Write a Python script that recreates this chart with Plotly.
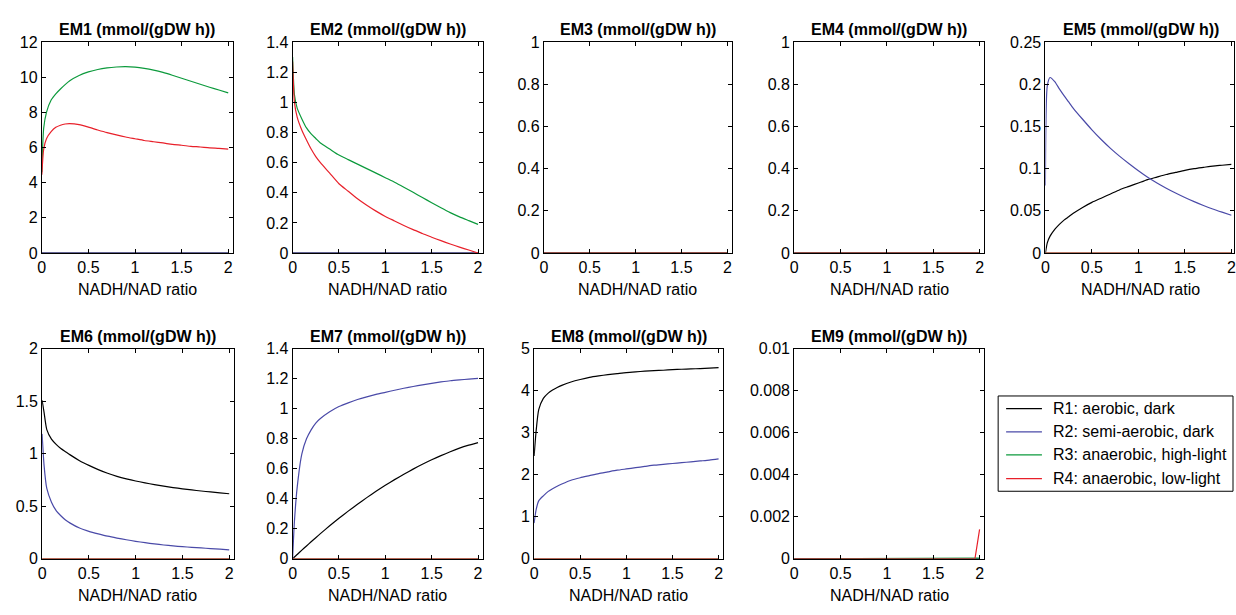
import plotly.graph_objects as go

# ---------------- data ----------------
X = [0, 0.02, 0.05, 0.1, 0.15, 0.2, 0.25, 0.3, 0.4, 0.5, 0.6, 0.7, 0.8, 0.9,
     1.0, 1.1, 1.2, 1.3, 1.4, 1.5, 1.6, 1.7, 1.8, 1.9, 2.0]
ZERO = [0, 0, 0, 0, 0, 0, 0, 0, 0, 0, 0, 0, 0, 0, 0, 0, 0, 0, 0, 0, 0, 0, 0, 0, 0]

EM1_R3 = [4.6, 7.1, 8.0, 8.7, 9.05, 9.33, 9.58, 9.8, 10.1, 10.3, 10.44, 10.53, 10.58,
          10.6, 10.57, 10.5, 10.4, 10.27, 10.11, 9.94, 9.77, 9.6, 9.43, 9.27, 9.11]
EM1_R4 = [4.45, 5.9, 6.5, 6.9, 7.15, 7.27, 7.34, 7.36, 7.3, 7.16, 7.0, 6.85, 6.72,
          6.6, 6.5, 6.4, 6.33, 6.26, 6.18, 6.13, 6.07, 6.03, 5.98, 5.95, 5.91]

EM2_R3 = [1.3, 1.05, 0.96, 0.89, 0.83, 0.79, 0.76, 0.73, 0.69, 0.65, 0.62, 0.59, 0.56,
          0.53, 0.50, 0.47, 0.437, 0.403, 0.368, 0.334, 0.3, 0.268, 0.24, 0.215, 0.19]
EM2_R4 = [1.27, 1.0, 0.9, 0.815, 0.75, 0.69, 0.64, 0.6, 0.53, 0.46, 0.41, 0.36, 0.317,
          0.278, 0.243, 0.213, 0.183, 0.155, 0.13, 0.105, 0.082, 0.06, 0.039, 0.02, 0.0]

EM5_R1 = [0, 0.012, 0.02, 0.028, 0.034, 0.039, 0.043, 0.047, 0.054, 0.06, 0.065, 0.07,
          0.075, 0.079, 0.083, 0.087, 0.09, 0.093, 0.0955, 0.098, 0.1, 0.1015, 0.103,
          0.104, 0.105]
EM5_R2 = [0.08, 0.198, 0.208, 0.203, 0.1945, 0.1865, 0.179, 0.1715, 0.1585, 0.146, 0.1345,
          0.124, 0.1145, 0.1058, 0.0975, 0.0898, 0.083, 0.0768, 0.0711, 0.0658, 0.0609,
          0.0564, 0.0522, 0.0484, 0.0448]

EM6_R1 = [1.51, 1.4, 1.23, 1.14, 1.09, 1.05, 1.02, 0.99, 0.935, 0.89, 0.85, 0.815,
          0.786, 0.762, 0.741, 0.723, 0.707, 0.692, 0.679, 0.667, 0.656, 0.646, 0.637,
          0.628, 0.62]
EM6_R2 = [1.19, 0.9, 0.67, 0.54, 0.46, 0.41, 0.37, 0.34, 0.293, 0.262, 0.238, 0.216,
          0.198, 0.182, 0.167, 0.154, 0.142, 0.132, 0.123, 0.116, 0.11, 0.104, 0.098,
          0.092, 0.086]

EM7_R1 = [0, 0.012, 0.029, 0.058, 0.086, 0.114, 0.141, 0.168, 0.22, 0.27, 0.318, 0.364,
          0.408, 0.45, 0.49, 0.528, 0.564, 0.598, 0.63, 0.66, 0.688, 0.714, 0.738,
          0.758, 0.775]
EM7_R2 = [0, 0.25, 0.48, 0.7, 0.8, 0.86, 0.905, 0.935, 0.98, 1.015, 1.04, 1.062, 1.08,
          1.096, 1.11, 1.124, 1.137, 1.149, 1.16, 1.17, 1.179, 1.187, 1.193, 1.198, 1.203]

EM8_R1 = [2.45, 3.0, 3.55, 3.82, 3.94, 4.02, 4.08, 4.13, 4.21, 4.27, 4.32, 4.355, 4.385,
          4.41, 4.435, 4.452, 4.467, 4.48, 4.49, 4.503, 4.513, 4.522, 4.53, 4.54, 4.55]
EM8_R2 = [0.85, 1.15, 1.38, 1.5, 1.6, 1.67, 1.73, 1.78, 1.87, 1.93, 1.98, 2.03, 2.07,
          2.11, 2.14, 2.17, 2.2, 2.23, 2.25, 2.27, 2.29, 2.31, 2.33, 2.35, 2.38]

X9 = [0, 1.95, 2.0]
EM9_R1 = [0, 0, 0]
EM9_R2 = [0, 0, 0]
EM9_R3 = [0, 0, 0.00003]
EM9_R4 = [0, 0, 0.0014]

SERIES_NAMES = ["R1: aerobic, dark", "R2: semi-aerobic, dark",
                "R3: anaerobic, high-light", "R4: anaerobic, low-light"]
COLORS = ["#000000", "#4a4aa8", "#0c9a3c", "#e8202a"]

TITLES = ["EM1 (mmol/(gDW h))", "EM2 (mmol/(gDW h))", "EM3 (mmol/(gDW h))",
          "EM4 (mmol/(gDW h))", "EM5 (mmol/(gDW h))", "EM6 (mmol/(gDW h))",
          "EM7 (mmol/(gDW h))", "EM8 (mmol/(gDW h))", "EM9 (mmol/(gDW h))"]
YMAX = [12, 1.4, 1, 1, 0.25, 2, 1.4, 5, 0.01]
YDTICK = [2, 0.2, 0.2, 0.2, 0.05, 0.5, 0.2, 1, 0.002]
XTICKS = [0, 0.5, 1, 1.5, 2]
XLABEL = "NADH/NAD ratio"

panels = [
    (X, [ZERO, ZERO, EM1_R3, EM1_R4]),
    (X, [ZERO, ZERO, EM2_R3, EM2_R4]),
    (X, [ZERO, ZERO, ZERO, ZERO]),
    (X, [ZERO, ZERO, ZERO, ZERO]),
    (X, [EM5_R1, EM5_R2, ZERO, ZERO]),
    (X, [EM6_R1, EM6_R2, ZERO, ZERO]),
    (X, [EM7_R1, EM7_R2, ZERO, ZERO]),
    (X, [EM8_R1, EM8_R2, ZERO, ZERO]),
    (X9, [EM9_R1, EM9_R2, EM9_R3, EM9_R4]),
]

# ---------------- layout geometry (pixels) ----------------
W, H = 1236, 615
BOXES = [  # left, right, top, bottom
    (38, 230, 35, 252), (290, 481, 35, 252), (542.5, 731.5, 35, 252),
    (794, 985, 35, 252), (1046.5, 1238, 35, 252),
    (38.3, 231, 350.5, 566.5), (290, 481, 350.5, 566.5), (532.7, 722.7, 350.5, 566.5),
    (794, 985, 350.5, 566.5),
]
XMAX = 2.05
FONT = "Liberation Sans, Arial, Helvetica, sans-serif"
LEG_BOX = (999, 1235, 399, 497)
LEG_ROWS = [412, 436, 459.5, 484]

fig = go.Figure()
annotations = []
shapes = []
layout_axes = {}

for i, ((xs, series), title, ymax, ydt, box) in enumerate(
        zip(panels, TITLES, YMAX, YDTICK, BOXES)):
    n = i + 1
    xa = "x" if n == 1 else f"x{n}"
    ya = "y" if n == 1 else f"y{n}"
    l, r, t, b = box
    full_w = r - l
    rr = min(r, W)
    xmax = XMAX * (rr - l) / full_w
    smooth = len(xs) > 3
    for k, ys in enumerate(series):
        fig.add_trace(go.Scatter(
            x=xs, y=ys, mode="lines", xaxis=xa, yaxis=ya,
            line=dict(color=COLORS[k], width=1.2,
                      shape="spline" if smooth else "linear", smoothing=0.6),
            name=SERIES_NAMES[k], showlegend=False, hoverinfo="skip"))
    common = dict(showline=True, linecolor="black", linewidth=1, mirror="ticks",
                  ticks="inside", ticklen=4, tickcolor="black", tickwidth=1,
                  showgrid=False, zeroline=False,
                  tickfont=dict(family=FONT, size=16, color="black"))
    layout_axes[f"xaxis{'' if n == 1 else n}"] = dict(
        domain=[l / W, rr / W], range=[0, xmax], anchor=ya,
        tickmode="array", tickvals=XTICKS, ticklabeloverflow="allow", **common)
    layout_axes[f"yaxis{'' if n == 1 else n}"] = dict(
        domain=[1 - b / H, 1 - t / H], range=[0, ymax], anchor=xa,
        dtick=ydt, tick0=0, **common)
    cx = (l + r) / 2
    annotations.append(dict(
        text=f"<b>{title}</b>", x=cx / W, y=1 - (t - 12.5) / H, xref="paper",
        yref="paper", xanchor="center", yanchor="middle", showarrow=False,
        font=dict(family=FONT, size=16, color="black")))
    annotations.append(dict(
        text=XLABEL, x=cx / W, y=1 - (b + 37.5) / H, xref="paper", yref="paper",
        xanchor="center", yanchor="middle", showarrow=False,
        font=dict(family=FONT, size=16, color="black")))

# legend drawn as a boxed key
lx0, lx1, ly0, ly1 = LEG_BOX
shapes.append(dict(type="rect", xref="paper", yref="paper",
                   x0=lx0 / W, x1=lx1 / W, y0=1 - ly1 / H, y1=1 - ly0 / H,
                   line=dict(color="black", width=1), fillcolor="white", layer="above"))
for k, (name, yrow) in enumerate(zip(SERIES_NAMES, LEG_ROWS)):
    shapes.append(dict(type="line", xref="paper", yref="paper",
                       x0=1007 / W, x1=1043 / W, y0=1 - yrow / H, y1=1 - yrow / H,
                       line=dict(color=COLORS[k], width=1.2), layer="above"))
    annotations.append(dict(
        text=name, x=1052 / W, y=1 - yrow / H, xref="paper", yref="paper",
        xanchor="left", yanchor="middle", showarrow=False,
        font=dict(family=FONT, size=16, color="black")))

fig.update_layout(
    width=W, height=H, margin=dict(l=0, r=0, t=0, b=0),
    paper_bgcolor="white", plot_bgcolor="white",
    annotations=annotations, shapes=shapes,
    showlegend=False,
    **layout_axes)

fig.write_html("out.html", config={"displayModeBar": False},
               post_script="document.body.style.margin='0';"
                           "document.body.style.overflow='hidden';")
